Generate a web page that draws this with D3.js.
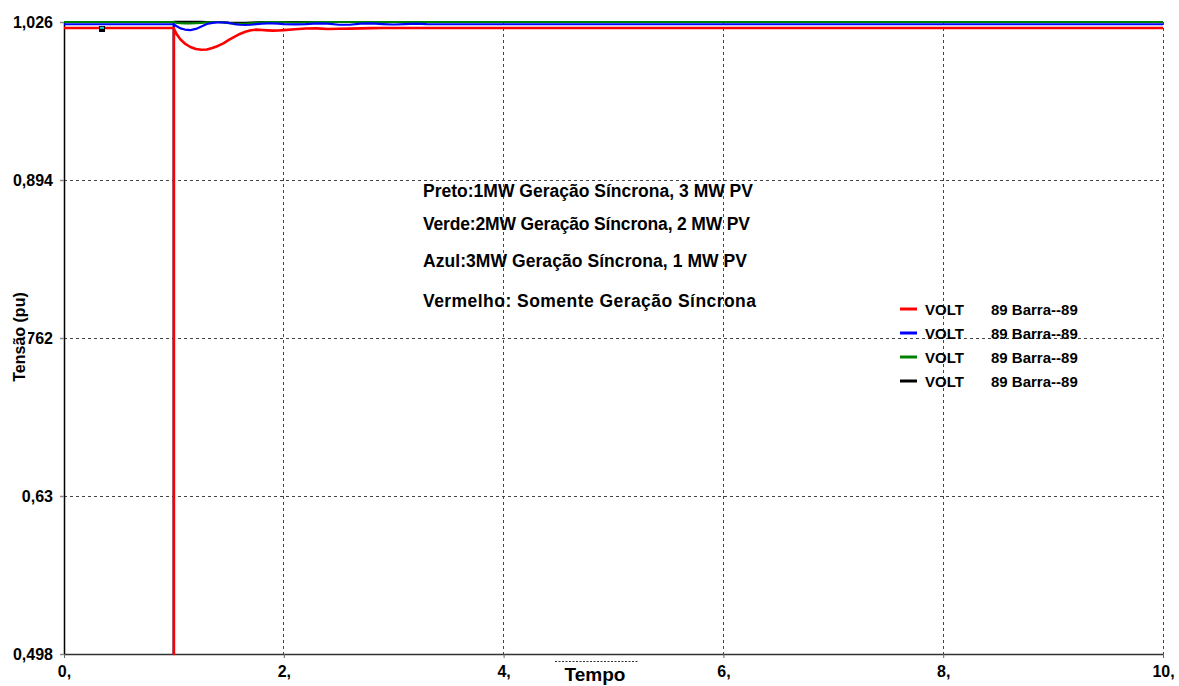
<!DOCTYPE html>
<html><head><meta charset="utf-8">
<script src="https://cdn.jsdelivr.net/npm/d3@7"></script>
<style>
html,body{margin:0;padding:0;background:#fff;}
svg{display:block;font-family:"Liberation Sans",Arial,sans-serif;font-weight:bold;}
</style></head>
<body>
<svg id="chart" width="1179" height="686"></svg>
<script>
// ---- data ----
const times = [0, 1.0, 1.0, 1.0, 1.03, 1.06, 1.1, 1.15, 1.2, 1.25, 1.3, 1.35, 1.4, 1.45, 1.5, 1.55, 1.6, 1.65, 1.7, 1.75, 1.8, 1.85, 1.9, 1.95, 2.0, 2.1, 2.2, 2.3, 2.4, 2.5, 2.6, 2.7, 2.8, 2.9, 3.0, 3.1, 3.2, 3.3, 3.5, 4.0, 10.0];
const voltRed = [1.0210, 1.0210, 0.498, 1.0202, 1.0151, 1.0114, 1.0080, 1.0051, 1.0034, 1.0028, 1.0030, 1.0043, 1.0060, 1.0082, 1.0110, 1.0136, 1.0160, 1.0179, 1.0191, 1.0196, 1.0193, 1.0190, 1.0188, 1.0189, 1.0192, 1.0200, 1.0206, 1.0207, 1.0201, 1.0203, 1.0205, 1.0207, 1.0209, 1.0210, 1.0210, 1.0210, 1.0210, 1.0210, 1.0210, 1.0210, 1.0210];
const voltBlue = [1.0241, 1.0241, 0.498, 1.0239, 1.0222, 1.0207, 1.0197, 1.0192, 1.0202, 1.0222, 1.0243, 1.0253, 1.0257, 1.0256, 1.0252, 1.0243, 1.0237, 1.0235, 1.0237, 1.0242, 1.0247, 1.0249, 1.0249, 1.0247, 1.0243, 1.0240, 1.0243, 1.0249, 1.0247, 1.0237, 1.0237, 1.0247, 1.0248, 1.0243, 1.0239, 1.0242, 1.0247, 1.0242, 1.0241, 1.0241, 1.0241];
const voltGreen = [1.0260, 1.0260, 0.498, 1.0258, 1.0253, 1.0250, 1.0248, 1.0248, 1.0250, 1.0253, 1.0257, 1.0260, 1.0260, 1.0256, 1.0250, 1.0246, 1.0244, 1.0245, 1.0249, 1.0254, 1.0258, 1.0260, 1.0260, 1.0260, 1.0258, 1.0256, 1.0257, 1.0259, 1.0260, 1.0260, 1.0260, 1.0260, 1.0260, 1.0260, 1.0260, 1.0260, 1.0260, 1.0260, 1.0260, 1.0260, 1.0260];
const voltBlack = [1.0260, 1.0260, 0.498, 1.0261, 1.0262, 1.0262, 1.0262, 1.0262, 1.0262, 1.0261, 1.0260, 1.0260, 1.0260, 1.0258, 1.0254, 1.0252, 1.0252, 1.0253, 1.0256, 1.0258, 1.0260, 1.0260, 1.0260, 1.0260, 1.0260, 1.0260, 1.0260, 1.0260, 1.0260, 1.0260, 1.0260, 1.0260, 1.0260, 1.0260, 1.0260, 1.0260, 1.0260, 1.0260, 1.0260, 1.0260, 1.0260];

const xTickValues = [0, 2, 4, 6, 8, 10];
const xTickLabels = ["0,", "2,", "4,", "6,", "8,", "10,"];
const yTickValues = [0.498, 0.63, 0.762, 0.894, 1.026];
const yTickLabels = ["0,498", "0,63", "0,762", "0,894", "1,026"];

const seriesNames = ["Vermelho", "Azul", "Verde", "Preto"];
const seriesColors = ["#ff0000", "#0000ff", "#008000", "#000000"];
const legendLeft = ["VOLT", "VOLT", "VOLT", "VOLT"];
const legendRight = ["89 Barra--89", "89 Barra--89", "89 Barra--89", "89 Barra--89"];

const notes = [
  "Preto:1MW Geração Síncrona, 3 MW PV",
  "Verde:2MW Geração Síncrona, 2 MW PV",
  "Azul:3MW Geração Síncrona, 1 MW PV",
  "Vermelho: Somente Geração Síncrona"
];
const xTitle = "Tempo";
const yTitle = "Tensão (pu)";

// ---- layout ----
const svg = d3.select("#chart");
const x = d3.scaleLinear().domain([0, 10]).range([64, 1163]);
const y = d3.scaleLinear().domain([0.498, 1.026]).range([654, 22]);

// grid
const grid = svg.append("g");
grid.selectAll("line.v").data(xTickValues.slice(1)).join("line")
  .attr("x1", d => x(d)).attr("x2", d => x(d))
  .attr("y1", y(1.026)).attr("y2", y(0.498))
  .attr("stroke", "#444").attr("stroke-width", 1).attr("stroke-dasharray", "3,3")
  .attr("shape-rendering", "crispEdges");
grid.selectAll("line.h").data(yTickValues.slice(1)).join("line")
  .attr("x1", x(0)).attr("x2", x(10))
  .attr("y1", d => y(d)).attr("y2", d => y(d))
  .attr("stroke", "#444").attr("stroke-width", 1).attr("stroke-dasharray", "3,3")
  .attr("shape-rendering", "crispEdges");

// axes
const yAxis = svg.append("g").attr("transform", `translate(${x(0)},0)`)
  .call(d3.axisLeft(y).tickValues(yTickValues)
    .tickFormat((d, i) => yTickLabels[i]).tickSize(4).tickSizeOuter(0).tickPadding(7));
yAxis.select(".domain").attr("stroke", "#000").attr("stroke-width", 1.5);
yAxis.selectAll(".tick line").attr("stroke", "#888").attr("stroke-width", 1.5);
yAxis.selectAll(".tick text").attr("font-size", 16).attr("font-weight", "bold")
  .attr("font-family", "Liberation Sans, Arial, sans-serif").attr("fill", "#000");

const xAxis = svg.append("g").attr("transform", `translate(0,${y(0.498)})`)
  .call(d3.axisBottom(x).tickValues(xTickValues)
    .tickFormat((d, i) => xTickLabels[i]).tickSize(4).tickSizeOuter(0).tickPadding(8));
xAxis.select(".domain").attr("stroke", "#333").attr("stroke-width", 1.5);
xAxis.selectAll(".tick line").attr("stroke", "#666").attr("stroke-width", 1);
xAxis.selectAll(".tick text").attr("font-size", 16).attr("font-weight", "bold")
  .attr("font-family", "Liberation Sans, Arial, sans-serif").attr("fill", "#000");

// y title with white background (covers the "0," of 0,762 as in the original)
svg.append("rect").attr("x", 7).attr("y", 288).attr("width", 21).attr("height", 96).attr("fill", "#fff");
svg.append("text").attr("transform", "translate(25,337) rotate(-90)")
  .attr("text-anchor", "middle").attr("font-size", 16).text(yTitle);

// x title
svg.append("line").attr("x1", 555).attr("x2", 639).attr("y1", 661.5).attr("y2", 661.5)
  .attr("stroke", "#333").attr("stroke-dasharray", "2,1.5").attr("stroke-width", 1);
svg.append("text").attr("x", 595).attr("y", 681).attr("text-anchor", "middle")
  .attr("font-size", 19).text(xTitle);

// series (draw black, green, blue, red so red is on top)
const seriesValues = [voltRed, voltBlue, voltGreen, voltBlack];
const widths = [2.6, 2.2, 2.2, 2.2];
const line = d3.line().x(d => x(d[0])).y(d => y(d[1]));
[3, 2, 1, 0].forEach(k => {
  const pts = times.map((t, i) => [t, seriesValues[k][i]]);
  svg.append("path").datum(pts).attr("d", line)
    .attr("fill", "none").attr("stroke", seriesColors[k]).attr("stroke-width", widths[k])
    .attr("stroke-linejoin", "round");
});

// small cursor marker
svg.append("rect").attr("x", 99).attr("y", 26).attr("width", 6).attr("height", 6).attr("fill", "#000");
svg.append("rect").attr("x", 100).attr("y", 26.8).attr("width", 4).attr("height", 2).attr("fill", "#1ad0e0");

// annotation
const noteY = [197, 230, 267, 307];
const noteW = [330, 327, 324, 333];
svg.append("g").selectAll("text").data(notes).join("text")
  .attr("x", 423).attr("y", (d, i) => noteY[i]).attr("font-size", 17.5)
  .attr("textLength", (d, i) => noteW[i]).attr("lengthAdjust", "spacing")
  .text(d => d);

// legend
const legY = [309, 333, 357, 381];
const leg = svg.append("g");
seriesNames.forEach((n, i) => {
  leg.append("line").attr("x1", 900).attr("x2", 917).attr("y1", legY[i]).attr("y2", legY[i])
    .attr("stroke", seriesColors[i]).attr("stroke-width", 3);
  leg.append("text").attr("x", 925).attr("y", legY[i] + 5.5).attr("font-size", 15).text(legendLeft[i]);
  leg.append("text").attr("x", 991).attr("y", legY[i] + 5.5).attr("font-size", 15).text(legendRight[i]);
});
</script>
</body></html>
